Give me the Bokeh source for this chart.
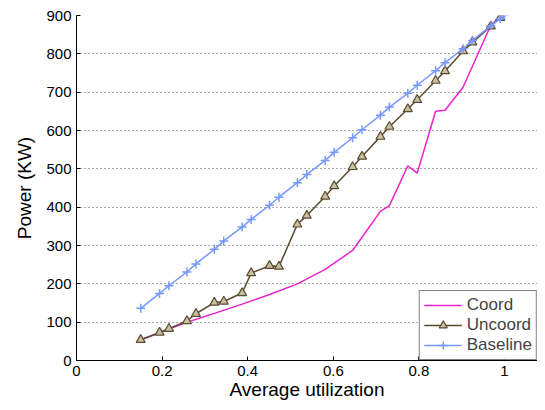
from bokeh.plotting import figure
from bokeh.models import Legend, LegendItem, FixedTicker, Range1d
from bokeh.embed import file_html
from bokeh.resources import INLINE

util = [0.15, 0.194, 0.216, 0.258, 0.279, 0.322, 0.344, 0.387, 0.408, 0.451, 0.473, 0.516, 0.538,
        0.581, 0.602, 0.645, 0.667, 0.710, 0.731, 0.774, 0.796, 0.839, 0.861, 0.903, 0.925, 0.968, 0.99]
uncoord = [54, 73, 83, 103, 122, 151, 154, 176, 228, 247, 245, 355, 378, 428, 455, 505, 532, 584,
           610, 656, 680, 730, 755, 807, 830, 872, 894]
base_x = util + [1.0]
baseline = [136, 175, 195, 231, 252, 290, 312, 348, 368, 405, 426, 464, 485, 522, 543, 581, 602,
            640, 661, 697, 718, 756, 777, 813, 835, 873, 892, 901]
coord_x = [0.15, 0.194, 0.258, 0.322, 0.387, 0.451, 0.516, 0.58, 0.645, 0.71, 0.731, 0.774, 0.796,
           0.839, 0.861, 0.903, 0.966, 0.99]
coord = [54, 72, 100, 123, 147, 172, 200, 237, 287, 389, 404, 508, 489, 650, 653, 713, 870, 900]

FONT = "Liberation Sans"
p = figure(width=537, height=402, output_backend="svg", toolbar_location=None,
           x_range=Range1d(0, 1.077), y_range=Range1d(0, 900),
           min_border_left=76, min_border_right=0, min_border_top=15, min_border_bottom=34)
p.outline_line_color = None
p.xgrid.grid_line_color = None
p.ygrid.grid_line_color = "#555555"
p.ygrid.grid_line_dash = "1 3"
p.xaxis.ticker = FixedTicker(ticks=[0, 0.2, 0.4, 0.6, 0.8, 1.0])
p.yaxis.ticker = FixedTicker(ticks=list(range(0, 901, 100)))
p.xaxis.axis_label = "Average utilization"
p.yaxis.axis_label = "Power (KW)"
for ax in (p.xaxis, p.yaxis):
    ax.axis_label_text_font = FONT
    ax.axis_label_text_font_style = "normal"
    ax.axis_label_text_font_size = "19px"
    ax.axis_label_text_color = "black"
    ax.major_label_text_font = FONT
    ax.major_label_text_font_size = "15px"
    ax.major_label_text_color = "black"
    ax.axis_line_color = "black"
    ax.major_tick_line_color = "black"
    ax.minor_tick_line_color = None
    ax.major_tick_in = 4
    ax.major_tick_out = 0
p.xaxis.axis_label_standoff = 0
p.yaxis.axis_label_standoff = 8

r1 = p.line(coord_x, coord, line_color="#ee22cc", line_width=1.5)
r2 = p.line(util, uncoord, line_color="#5a4a30", line_width=1.5)
r2m = p.scatter(util, uncoord, marker="triangle", size=9, fill_color="#c8bfa0",
                line_color="#5a4a30", line_width=1.2)
r3 = p.line(base_x, baseline, line_color="#7799ff", line_width=1.5)
r3m = p.scatter(base_x, baseline, marker="cross", size=9, line_color="#7799ff", line_width=1.5)

legend = Legend(items=[LegendItem(label="Coord", renderers=[r1]),
                       LegendItem(label="Uncoord", renderers=[r2, r2m]),
                       LegendItem(label="Baseline", renderers=[r3, r3m])],
                location="bottom_right", label_text_font=FONT, label_text_font_size="17px",
                border_line_color="black", border_line_width=1.5, padding=4, spacing=0,
                margin=0, glyph_width=38, label_height=20, glyph_height=20)
p.add_layout(legend)

open("out.html", "w").write(file_html(p, INLINE))
